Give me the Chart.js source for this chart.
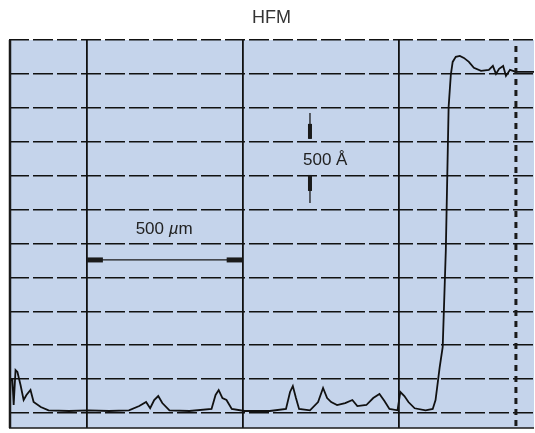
<!DOCTYPE html>
<html>
<head>
<meta charset="utf-8">
<script src="https://cdn.jsdelivr.net/npm/chart.js@4"></script>
<style>
  html, body { margin: 0; padding: 0; background: #fff; }
  #wrap { width: 535px; height: 433px; }
</style>
</head>
<body>
<div id="wrap"><canvas id="hfm"></canvas></div>
<script>
// Profile trace: position (µm) and height (Å)
const posUm = [-248, -245, -239, -235, -229, -223, -213, -203, -194, -181, -171, -148, -123, -58, 6, 71, 135, 168, 190, 203,
  216, 229, 242, 265, 329, 400, 413, 423, 435, 448, 465, 506, 587, 639, 652, 661, 671, 681, 716, 742,
  758, 771, 784, 803, 829, 852, 868, 897, 919, 939, 955, 971, 997, 1006, 1019, 1032, 1052, 1087, 1110, 1119,
  1126, 1132, 1142, 1152, 1161, 1168, 1174, 1184, 1197, 1210, 1226, 1242, 1265, 1290, 1303, 1313, 1323, 1336, 1345, 1358,
  1377, 1410, 1435];
const heightA = [0, 487, 487, 118, 634, 605, 413, 192, 266, 339, 162, 88, 40, 30, 40, 30, 40, 103, 162, 70,
  192, 251, 147, 40, 30, 60, 266, 339, 221, 192, 60, 30, 30, 60, 310, 398, 221, 60, 40, 162,
  369, 221, 162, 118, 147, 192, 103, 118, 221, 280, 177, 60, 40, 310, 251, 162, 70, 40, 60, 192,
  443, 664, 974, 2404, 4514, 4986, 5177, 5251, 5266, 5236, 5177, 5089, 5045, 5060, 5118, 5000, 5074, 5118, 4971, 5060,
  5030, 5030, 5030];

// Grid positions
const xGridUm = [0, 500, 1000];
const yGridA = [0, 500, 1000, 1500, 2000, 2500, 3000, 3500, 4000, 4500, 5000, 5500];
const markerUm = 1377; // dotted vertical marker

// Scale bars
const barUm = { from: 0, to: 500, at: 2257, label: "500 ", unit: "µ", unitTail: "m", labelX: 248, labelY: 2714 };
const barA = { x: 716, topFrom: 4425, topTo: 4042, botFrom: 3098, botTo: 3510, label: "500 Å", labelX: 765, labelY: 3732 };

const points = posUm.map((x, i) => ({ x: x, y: heightA[i] }));

const decorPlugin = {
  id: "decor",
  beforeDraw(chart) {
    const { ctx, chartArea: a } = chart;
    ctx.save();
    ctx.fillStyle = "#c5d4eb";
    ctx.fillRect(a.left, a.top, a.right - a.left, a.bottom - a.top);
    ctx.restore();
  },
  afterDatasetsDraw(chart) {
    const { ctx, chartArea: a, scales } = chart;
    const xs = scales.x, ys = scales.y;
    ctx.save();
    ctx.strokeStyle = "#1a1a1a";
    ctx.fillStyle = "#1a1a1a";

    // left and bottom borders
    ctx.lineWidth = 2.5;
    ctx.beginPath();
    ctx.moveTo(a.left + 1, a.top);
    ctx.lineTo(a.left + 1, a.bottom);
    ctx.stroke();
    ctx.lineWidth = 1.5;
    ctx.beginPath();
    ctx.moveTo(a.left, a.bottom);
    ctx.lineTo(a.right, a.bottom);
    ctx.stroke();

    // dotted marker
    const mx = xs.getPixelForValue(markerUm);
    ctx.lineWidth = 3;
    ctx.setLineDash([6, 5]);
    ctx.beginPath();
    ctx.moveTo(mx, a.top + 6);
    ctx.lineTo(mx, a.bottom);
    ctx.stroke();
    ctx.setLineDash([]);

    // 500 um bar
    const bx0 = xs.getPixelForValue(barUm.from);
    const bx1 = xs.getPixelForValue(barUm.to);
    const by = ys.getPixelForValue(barUm.at);
    ctx.lineWidth = 1.3;
    ctx.beginPath();
    ctx.moveTo(bx0, by);
    ctx.lineTo(bx1, by);
    ctx.stroke();
    ctx.fillRect(bx0, by - 2.5, 16, 5);
    ctx.fillRect(bx1 - 16, by - 2.5, 16, 5);

    // 500 A bar
    const ax = xs.getPixelForValue(barA.x);
    const t0 = ys.getPixelForValue(barA.topFrom), t1 = ys.getPixelForValue(barA.topTo);
    const b0 = ys.getPixelForValue(barA.botFrom), b1 = ys.getPixelForValue(barA.botTo);
    ctx.beginPath();
    ctx.moveTo(ax, t0); ctx.lineTo(ax, t1);
    ctx.moveTo(ax, b0); ctx.lineTo(ax, b1);
    ctx.stroke();
    ctx.fillRect(ax - 2, t1 - 15, 4, 15);
    ctx.fillRect(ax - 2, b1, 4, 16);

    // labels
    ctx.fillStyle = "#222";
    ctx.textBaseline = "middle";
    ctx.textAlign = "center";
    ctx.font = "17px 'Liberation Sans', Arial, sans-serif";
    ctx.fillText(barA.label, xs.getPixelForValue(barA.labelX), ys.getPixelForValue(barA.labelY));

    const lx = xs.getPixelForValue(barUm.labelX), ly = ys.getPixelForValue(barUm.labelY);
    const normal = "17px 'Liberation Sans', Arial, sans-serif";
    const italic = "italic 17px 'Liberation Sans', Arial, sans-serif";
    ctx.font = normal;
    const w1 = ctx.measureText(barUm.label).width;
    const w3 = ctx.measureText(barUm.unitTail).width;
    ctx.font = italic;
    const w2 = ctx.measureText(barUm.unit).width;
    let cx = lx - (w1 + w2 + w3) / 2;
    ctx.textAlign = "left";
    ctx.font = normal;
    ctx.fillText(barUm.label, cx, ly);
    cx += w1;
    ctx.font = italic;
    ctx.fillText(barUm.unit, cx, ly);
    cx += w2;
    ctx.font = normal;
    ctx.fillText(barUm.unitTail, cx, ly);
    ctx.restore();
  },
};

new Chart(document.getElementById("hfm").getContext("2d"), {
  type: "line",
  data: {
    datasets: [
      {
        data: points,
        borderColor: "#111",
        borderWidth: 1.8,
        pointRadius: 0,
        tension: 0,
        fill: false,
      },
    ],
  },
  options: {
    responsive: true,
    maintainAspectRatio: false,
    animation: false,
    layout: { padding: { left: 9, right: 1, bottom: 5, top: 0 } },
    plugins: {
      legend: { display: false },
      tooltip: { enabled: false },
      title: {
        display: true,
        text: "HFM",
        color: "#333",
        font: { family: "'Liberation Sans', Arial, sans-serif", size: 18, weight: "normal" },
        padding: { top: 7, bottom: 11.4 },
      },
    },
    scales: {
      x: {
        type: "linear",
        min: -250,
        max: 1435,
        afterBuildTicks: (scale) => {
          scale.ticks = xGridUm.map((v) => ({ value: v }));
        },
        ticks: { display: false },
        grid: { color: "#111", lineWidth: 1.8, drawTicks: false },
        border: { display: false },
      },
      y: {
        min: -221,
        max: 5500,
        afterBuildTicks: (scale) => {
          scale.ticks = yGridA.map((v) => ({ value: v }));
        },
        ticks: { display: false },
        grid: { color: "#111", lineWidth: 1.4, drawTicks: false },
        border: { display: false, dash: [20, 4] },
      },
    },
  },
  plugins: [decorPlugin],
});
</script>
</body>
</html>
